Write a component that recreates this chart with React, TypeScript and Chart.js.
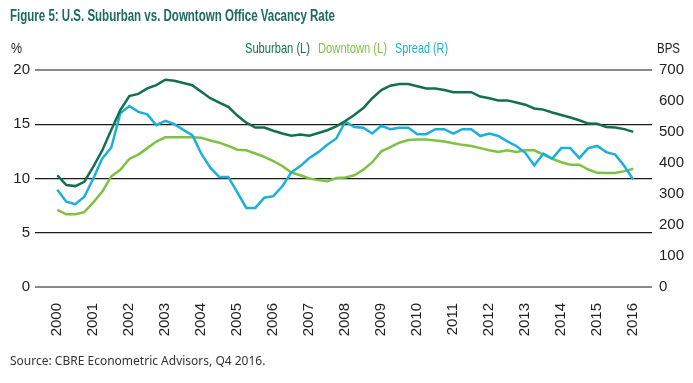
import React, { useEffect, useRef } from "react";
import { Chart, registerables } from "chart.js";

Chart.register(...registerables);

// Tick labels (one per year; data is quarterly, 4 points per year)
const yearLabels = [
  "2000", "2001", "2002", "2003", "2004", "2005", "2006", "2007", "2008",
  "2009", "2010", "2011", "2012", "2013", "2014", "2015", "2016",
];
const quartersPerYear = 4;

const seriesNames = ["Suburban (L)", "Downtown (L)", "Spread (R)"];

// Suburban vacancy rate, %
const suburban = [
  10.3, 9.4, 9.3, 9.7, 11.1, 12.6, 14.5, 16.3, 17.6, 17.8,
  18.3, 18.6, 19.1, 19.0, 18.8, 18.6, 18.0, 17.4, 17.0, 16.6,
  15.8, 15.15, 14.7, 14.7, 14.4, 14.15, 13.95, 14.05, 13.95, 14.2,
  14.45, 14.8, 15.3, 15.85, 16.5, 17.4, 18.15, 18.55, 18.7, 18.7,
  18.5, 18.3, 18.3, 18.15, 17.95, 17.95, 17.95, 17.55, 17.4, 17.2,
  17.2, 17.0, 16.8, 16.45, 16.35, 16.08, 15.85, 15.62, 15.37, 15.06,
  15.05, 14.75, 14.69, 14.55, 14.3,
];

// Downtown vacancy rate, %
const downtown = [
  7.1, 6.7, 6.7, 6.9, 7.8, 8.8, 10.2, 10.8, 11.8, 12.2,
  12.8, 13.4, 13.8, 13.8, 13.8, 13.8, 13.75, 13.5, 13.3, 13.0,
  12.65, 12.6, 12.3, 12.0, 11.6, 11.15, 10.55, 10.3, 10.0, 9.85,
  9.75, 10.05, 10.1, 10.3, 10.8, 11.5, 12.5, 12.9, 13.3, 13.55,
  13.6, 13.6, 13.5, 13.4, 13.25, 13.1, 13.0, 12.8, 12.6, 12.45,
  12.6, 12.45, 12.6, 12.6, 12.2, 11.82, 11.5, 11.27, 11.27, 10.83,
  10.52, 10.5, 10.5, 10.68, 10.9,
];

// Spread, BPS
const spread = [
  314, 275, 267, 291, 350, 415, 450, 560, 584, 565,
  557, 522, 536, 525, 507, 490, 430, 385, 355, 355,
  305, 255, 255, 288, 293, 325, 370, 390, 416, 435,
  459, 479, 533, 516, 514, 495, 520, 509, 514, 514,
  493, 493, 509, 509, 495, 509, 509, 487, 495, 487,
  470, 455, 433, 392, 430, 414, 448, 448, 416, 448,
  455, 435, 427, 390, 347,
];

const COLORS = {
  suburban: "#12704f",
  downtown: "#7dc243",
  spread: "#1bafdc",
  title: "#1b6b5b",
};

const toPoints = (arr: number[]) => arr.map((v, i) => ({ x: i, y: v }));

const NARROW = '"Liberation Sans Narrow", "Liberation Sans", sans-serif';

const textPlugin = {
  id: "customTexts",
  afterDraw(chart: any) {
    const ctx = chart.ctx as CanvasRenderingContext2D;
    ctx.save();
    ctx.textBaseline = "alphabetic";
    ctx.textAlign = "left";

    ctx.font = `bold 16px ${NARROW}`;
    ctx.fillStyle = COLORS.title;
    ctx.fillText("Figure 5: U.S. Suburban vs. Downtown Office Vacancy Rate", 10, 21, 325);

    ctx.font = `15px ${NARROW}`;
    ctx.fillStyle = "#222";
    ctx.fillText("%", 11, 53, 11);
    ctx.fillText("BPS", 657, 53, 23);

    const legendColors = [COLORS.suburban, COLORS.downtown, COLORS.spread];
    const legendX = [245, 318, 395];
    const legendW = [65, 69, 53];
    seriesNames.forEach((n, k) => {
      ctx.fillStyle = legendColors[k];
      ctx.fillText(n, legendX[k], 53, legendW[k]);
    });

    ctx.font = '12px "Noto Sans", sans-serif';
    ctx.fillStyle = "#333";
    ctx.fillText("Source: CBRE Econometric Advisors, Q4 2016.", 10, 365, 267);
    ctx.restore();
  },
};

export default function App() {
  const ref = useRef<HTMLCanvasElement | null>(null);

  useEffect(() => {
    if (!ref.current) return;
    const tickFont = { family: NARROW, size: 15 };
    const chart = new Chart(ref.current, {
      type: "line",
      data: {
        datasets: [
          {
            label: seriesNames[0],
            data: toPoints(suburban),
            borderColor: COLORS.suburban,
            borderWidth: 2.5,
            pointRadius: 0,
            yAxisID: "y",
            order: 1,
          },
          {
            label: seriesNames[1],
            data: toPoints(downtown),
            borderColor: COLORS.downtown,
            borderWidth: 2.5,
            pointRadius: 0,
            yAxisID: "y",
            order: 3,
          },
          {
            label: seriesNames[2],
            data: toPoints(spread),
            borderColor: COLORS.spread,
            borderWidth: 2.5,
            pointRadius: 0,
            yAxisID: "y1",
            order: 2,
          },
        ],
      },
      options: {
        animation: false,
        responsive: false,
        layout: { padding: { top: 70, left: 0, right: 0, bottom: 0 } },
        plugins: {
          legend: { display: false },
          title: { display: false },
          tooltip: { enabled: false },
        },
        scales: {
          x: {
            type: "linear",
            min: -2.48,
            max: 64 + 2.08,
            grid: { display: false },
            border: { display: false },
            afterBuildTicks: (s: any) => {
              s.ticks = yearLabels.map((_, k) => ({ value: k * quartersPerYear }));
            },
            afterFit: (s: any) => {
              s.height = 96;
            },
            ticks: {
              autoSkip: false,
              minRotation: 90,
              maxRotation: 90,
              padding: 8,
              color: "#222",
              font: tickFont,
              callback: (v: any) => yearLabels[Math.round(Number(v) / quartersPerYear)],
            },
          },
          y: {
            position: "left",
            min: 0,
            max: 20,
            border: { display: false },
            afterFit: (s: any) => {
              s.width = 35;
            },
            grid: {
              drawTicks: false,
              color: (c: any) => (c.tick && (c.tick.value === 0 || c.tick.value === 20) ? "#8a8a8a" : "#1a1a1a"),
              lineWidth: (c: any) => (c.tick && (c.tick.value === 0 || c.tick.value === 20) ? 2 : 1.2),
            },
            ticks: { stepSize: 5, padding: 5, color: "#222", font: tickFont },
          },
          y1: {
            position: "right",
            min: 0,
            max: 700,
            border: { display: false },
            afterFit: (s: any) => {
              s.width = 41;
            },
            grid: { display: false, drawTicks: false },
            ticks: { stepSize: 100, padding: 7, color: "#222", font: tickFont },
          },
        },
      } as any,
      plugins: [textPlugin],
    });
    return () => chart.destroy();
  }, []);

  return (
    <div style={{ position: "absolute", left: 0, top: 0, width: 693, height: 383, background: "#fff" }}>
      <canvas ref={ref} width={693} height={383} />
    </div>
  );
}
